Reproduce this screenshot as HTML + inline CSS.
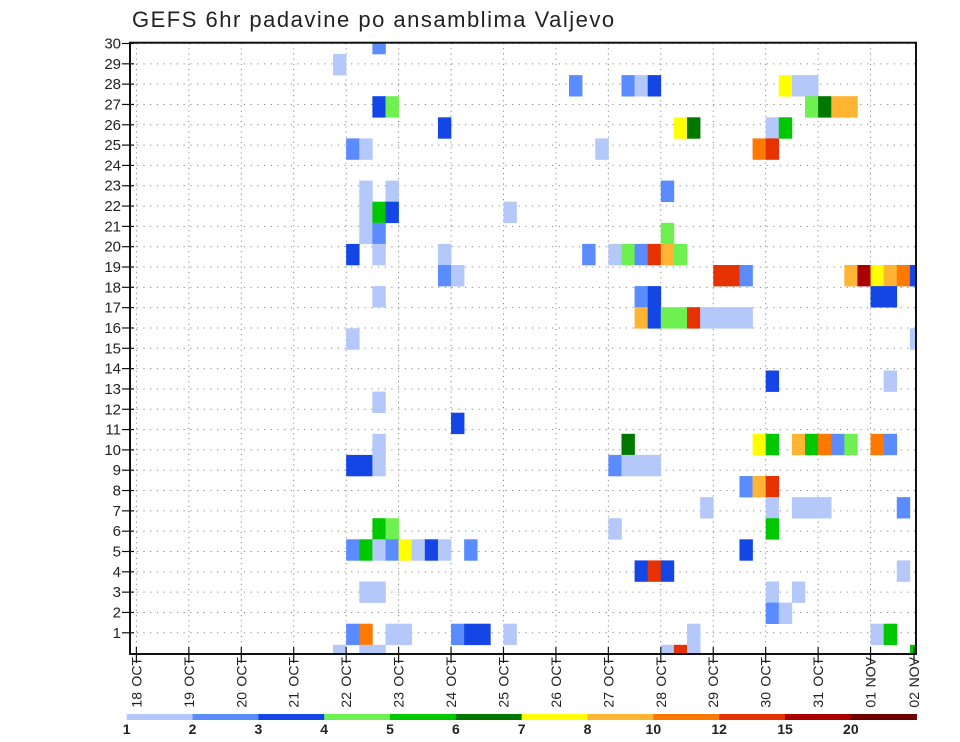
<!DOCTYPE html>
<html><head><meta charset="utf-8"><style>
html,body{margin:0;padding:0;background:#fff;}
svg{display:block;font-family:"Liberation Sans",sans-serif;}
</style></head><body>
<svg id="chart" width="960" height="742" viewBox="0 0 960 742" xmlns="http://www.w3.org/2000/svg">
<text x="132" y="27" font-size="22" letter-spacing="1.5" fill="#222">GEFS 6hr padavine po ansamblima Valjevo</text>
<defs><clipPath id="plotclip"><rect x="130" y="42.7" width="786" height="611.3"/></clipPath></defs>
<g id="grid"></g>
<g id="cells" clip-path="url(#plotclip)"></g>
<rect x="130" y="42.7" width="786" height="611.3" fill="none" stroke="#111" stroke-width="2"/>
<g id="axes"></g>
<g id="legend"></g>
</svg>
<script>
// ---- data ----
const dayLabels = ["18","19","20","21","22","23","24","25","26","27","28","29","30","31","01","02"];
const monthLabels = ["OCT","OCT","OCT","OCT","OCT","OCT","OCT","OCT","OCT","OCT","OCT","OCT","OCT","OCT","NOV","NOV"];
const memberTicks = [1,2,3,4,5,6,7,8,9,10,11,12,13,14,15,16,17,18,19,20,21,22,23,24,25,26,27,28,29,30];
const binEdges = [1,2,3,4,5,6,7,8,10,12,15,20];
const binLabels = ["1","2","3","4","5","6","7","8","10","12","15","20"];
const binColors = ["#b4c8fa","#5a8cff","#1446e6","#6ef050","#00c800","#007800","#ffff00","#ffb432","#ff7800","#e63200","#aa0000","#6e0000"];
// time step (6h since 18 OCT 00z)
const cellStep = [18,15,33,37,38,39,49,50,51,18,19,51,52,53,54,23,41,42,48,49,16,17,35,47,48,17,19,40,17,18,19,28,17,18,40,16,18,23,34,36,37,38,39,40,41,23,24,44,45,46,54,55,56,57,58,59,18,38,39,56,57,38,39,40,41,42,43,44,45,46,16,59,48,57,18,24,18,37,47,48,50,51,52,53,54,56,57,16,17,18,36,37,38,39,46,47,48,43,48,50,51,52,58,18,19,36,48,16,17,18,19,20,21,22,23,25,46,38,39,40,58,17,18,48,50,48,49,16,17,19,20,24,25,26,28,42,56,57,15,17,18,40,41,42,59];
// ensemble member row
const cellMember = [30,29,28,28,28,28,28,28,28,27,27,27,27,27,27,26,26,26,26,26,25,25,25,25,25,23,23,23,22,22,22,22,21,21,21,20,20,20,20,20,20,20,20,20,20,19,19,19,19,19,19,19,19,19,19,19,18,18,18,18,18,17,17,17,17,17,17,17,17,17,16,16,14,14,13,12,11,11,11,11,11,11,11,11,11,11,11,10,10,10,10,10,10,10,9,9,9,8,8,8,8,8,8,7,7,7,7,6,6,6,6,6,6,6,6,6,6,5,5,5,5,4,4,4,4,3,3,2,2,2,2,2,2,2,2,2,2,2,1,1,1,1,1,1,1];
// precipitation (mm / 6h)
const cellValue = [2.5,1.5,2.5,2.5,1.5,3.5,7.5,1.5,1.5,3.5,4.5,4.5,6.5,9,9,3.5,7.5,6.5,1.5,5.5,2.5,1.5,1.5,11,13,1.5,1.5,2.5,1.5,5.5,3.5,1.5,1.5,2.5,4.5,3.5,1.5,1.5,2.5,1.5,4.5,2.5,13,9,4.5,2.5,1.5,13,13,2.5,9,17,7.5,9,11,3.5,1.5,2.5,3.5,3.5,3.5,9,3.5,4.5,4.5,13,1.5,1.5,1.5,1.5,1.5,1.5,3.5,1.5,1.5,3.5,1.5,6.5,7.5,5.5,9,5.5,11,2.5,4.5,11,2.5,3.5,3.5,1.5,2.5,1.5,1.5,1.5,2.5,9,13,1.5,1.5,1.5,1.5,1.5,2.5,5.5,4.5,1.5,5.5,2.5,5.5,1.5,2.5,7.5,1.5,3.5,1.5,2.5,3.5,3.5,13,3.5,1.5,1.5,1.5,1.5,1.5,2.5,1.5,2.5,11,1.5,1.5,2.5,3.5,3.5,1.5,1.5,1.5,5.5,1.5,1.5,1.5,1.5,13,1.5,5.5];

// ---- scales ----
const X0 = 136.4, STEP = 13.11, DAY = STEP*4;
const xOfStep = t => X0 + t*STEP;
const xOfDay = d => X0 + d*DAY;
const yOfTick = k => 653.1 - k*20.32;
const CELL_H = 21.1;
const yOfMemberTop = m => 54 + (29-m)*CELL_H;
function colorOf(v){let i=0;for(let j=0;j<binEdges.length;j++){if(v>=binEdges[j])i=j;}return binColors[i];}
const NS="http://www.w3.org/2000/svg";
function mk(tag,attrs,parent){const e=document.createElementNS(NS,tag);for(const k in attrs)e.setAttribute(k,attrs[k]);parent.appendChild(e);return e;}

// grid
const grid=document.getElementById('grid');
memberTicks.forEach(k=>{
  const l=mk('line',{x1:130,x2:916,y1:yOfTick(k),y2:yOfTick(k),stroke:'#888','stroke-width':1,'stroke-dasharray':'1.2,5.5'},grid);
  
  
});
dayLabels.forEach((d,i)=>{
  const x=xOfDay(i); if(x>916)return;
  const l=mk('line',{x1:x,x2:x,y1:43,y2:654,stroke:'#888','stroke-width':1,'stroke-dasharray':'1.2,4'},grid);
  
  
});

// cells
const cells=document.getElementById('cells');
cellStep.forEach((t,i)=>{
  const r=mk('rect',{x:xOfStep(t),y:yOfMemberTop(cellMember[i]),width:STEP+0.3,height:CELL_H+0.3,fill:colorOf(cellValue[i])},cells);
  
  
});

// axes
const axes=document.getElementById('axes');
memberTicks.forEach(k=>{
  const y=yOfTick(k);
  const tk=mk('line',{x1:122,x2:134,y1:y,y2:y,stroke:'#111','stroke-width':1.2},axes);
  
  
  const tx=mk('text',{x:121,y:y+5,'font-size':15,'text-anchor':'end',fill:'#222'},axes);
  tx.textContent=String(k);
  
  
});
dayLabels.forEach((d,i)=>{
  let x=xOfDay(i); if(x>916)x=914;
  const tk=mk('line',{x1:x,x2:x,y1:647,y2:663,stroke:'#111','stroke-width':1.2},axes);
  
  
  const xb=x+5;
  const m=mk('text',{x:xb,y:657,'font-size':14,'text-anchor':'end',fill:'#222',transform:'rotate(-90 '+xb+' 657)'},axes);
  m.textContent=monthLabels[i];
  
  
  const dt=mk('text',{x:xb,y:692,'font-size':14,'text-anchor':'end',fill:'#222',transform:'rotate(-90 '+xb+' 692)'},axes);
  dt.textContent=d;
  
  
});

// colorbar
const leg=document.getElementById('legend');
const LX=126.7, LW=65.83;
binColors.forEach((c,i)=>{
  const r=mk('rect',{x:LX+i*LW,y:714,width:LW+0.3,height:6,fill:c},leg);
  
  
  const t=mk('text',{x:LX+i*LW,y:734,'font-size':14,'text-anchor':'middle',fill:'#222','font-weight':'bold'},leg);
  t.textContent=binLabels[i];
  
  
});
</script>
</body></html>
